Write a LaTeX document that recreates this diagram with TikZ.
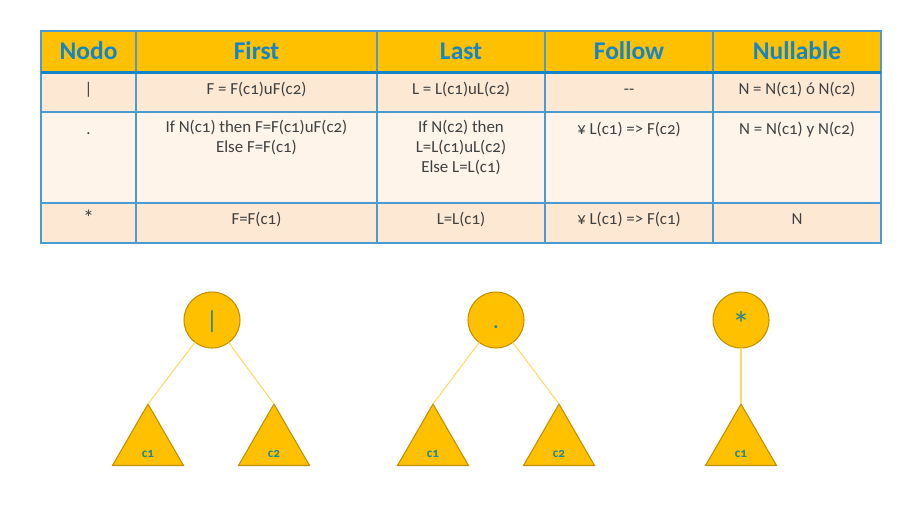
\documentclass[tikz,border=0pt]{standalone}
\usepackage{fontspec}
\setmainfont{Carlito}[Numbers=OldStyle]
\usepackage{tikz}
\usetikzlibrary{positioning,shapes.geometric}
\definecolor{ambar}{HTML}{FFC000}
\definecolor{oro}{HTML}{BF9000}
\definecolor{linea}{HTML}{FFD966}
\definecolor{azul}{HTML}{1485C8}
\definecolor{borde}{HTML}{4A9BD2}
\definecolor{fila}{HTML}{FDE8D3}
\definecolor{filab}{HTML}{FEF4EA}
\definecolor{texto}{HTML}{404040}
\definecolor{verde}{HTML}{23878F}
\tikzset{
  cab/.style={anchor=base, inner sep=0pt, text=azul,
    font=\fontsize{14.5}{16}\selectfont\bfseries},
  celda/.style={anchor=north, align=center, inner sep=0pt, text=texto,
    font=\fontsize{9.6}{11.3}\selectfont, execute at begin node=\strut},
  raiz/.style={circle, draw=oro, fill=ambar, line width=0.6pt,
    minimum size=1.12cm, inner sep=0pt, outer sep=0pt, text=verde,
    text height=10.2pt, text depth=0pt, font=\fontsize{14}{16}\selectfont},
  hijo/.style={regular polygon, regular polygon sides=3, draw=oro, fill=ambar,
    line width=0.6pt, minimum size=1.64cm, inner sep=0pt, outer sep=0pt},
  rama/.style={draw=linea, line width=0.6pt},
  etq/.style={anchor=base, inner sep=0pt, text=verde,
    font=\fontsize{7.5}{8}\selectfont\bfseries}
}
\begin{document}
\begin{tikzpicture}[x=0.02cm,y=-0.02cm]
		\useasboundingbox (0,0) rectangle (918,508);

		% tabla
		\fill[ambar] (41,31) rectangle (881,72);
		\fill[fila] (41,72) rectangle (881,112);
		\fill[filab] (41,112) rectangle (881,203);
		\fill[fila] (41,203) rectangle (881,243);
		\draw[borde, line width=0.7pt] (41,31) rectangle (881,243);
		\draw[borde, line width=0.7pt] (136,31) -- (136,243) (377,31) -- (377,243)
			(545,31) -- (545,243) (713,31) -- (713,243)
			(41,112) -- (881,112) (41,203) -- (881,203);
		\draw[azul, line width=1.7pt] (41,72) -- (881,72);

		\node[cab] (hNodo) at (88.5,59.5) {Nodo};
		\node[cab] (hFirst) at (256.5,59.5) {First};
		\node[cab] (hLast) at (461,59.5) {Last};
		\node[cab] (hFollow) at (629,59.5) {Follow};
		\node[cab] (hNull) at (797,59.5) {Nullable};

		\node[celda] (c11) at (88.5,80) {|};
		\node[celda] (c12) at (256.5,80) {F = F(c1)uF(c2)};
		\node[celda] (c13) at (461,80) {L = L(c1)uL(c2)};
		\node[celda] (c14) at (629,80) {-{}-};
		\node[celda] (c15) at (797,80) {N = N(c1) ó N(c2)};

		\node[celda] (c21) at (88.5,120) {.};
		\node[celda] (c22) at (256.5,120) {If N(c1) then F=F(c1)uF(c2)\\Else F=F(c1)};
		\node[celda] (c23) at (461,120) {If N(c2) then\\L=L(c1)uL(c2)\\Else L=L(c1)};
		\node[celda] (c24) at (629,120) {¥ L(c1) => F(c2)};
		\node[celda] (c25) at (797,120) {N = N(c1) y N(c2)};

		\node[celda, font=\fontsize{12.5}{11.3}\selectfont] (c31) at (88.5,210) {*};
		\node[celda] (c32) at (256.5,210) {F=F(c1)};
		\node[celda] (c33) at (461,210) {L=L(c1)};
		\node[celda] (c34) at (629,210) {¥ L(c1) => F(c1)};
		\node[celda] (c35) at (797,210) {N};

		% arboles
		\node[raiz] (R1) at (212,320) {|};
		\node[raiz] (R2) at (496,320) {.};
		\node[raiz, font=\fontsize{20}{22}\selectfont, text height=19pt] (R3) at (741,320) {*};

		\node[hijo] (T1) at (148,445) {};
		\node[hijo] (T2) at (274,445) {};
		\node[hijo] (T3) at (433,445) {};
		\node[hijo] (T4) at (559,445) {};
		\node[hijo] (T5) at (741,445) {};

		\node[etq] (e1) at (148,457) {c1};
		\node[etq] (e2) at (274,457) {c2};
		\node[etq] (e3) at (433,457) {c1};
		\node[etq] (e4) at (559,457) {c2};
		\node[etq] (e5) at (741,457) {c1};

		\draw[rama] (R1) -- (T1.corner 1);
		\draw[rama] (R1) -- (T2.corner 1);
		\draw[rama] (R2) -- (T3.corner 1);
		\draw[rama] (R2) -- (T4.corner 1);
		\draw[rama] (R3) -- (T5.corner 1);
	\end{tikzpicture}
\end{document}
